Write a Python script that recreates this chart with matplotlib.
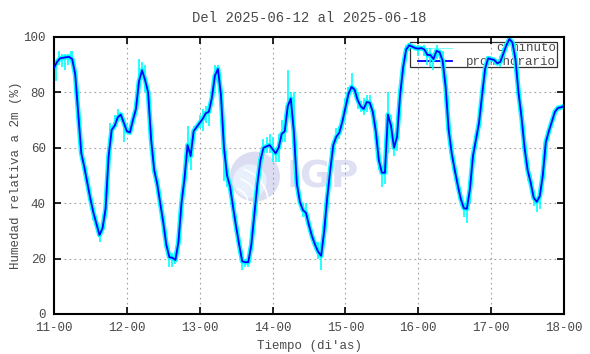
import numpy as np
import matplotlib.pyplot as plt
from matplotlib.patches import Ellipse, Rectangle, Arc

# promedio horario, horas desde 11-00 (0..168)
hum_horario = [
    88.8, 91.0, 92.3, 92.5, 92.7, 92.8, 92.0, 86.5, 72.0, 58.0, 53.0, 47.3,
    41.5, 36.5, 32.5, 28.5, 31.0, 38.0, 57.0, 66.5, 68.0, 71.0, 72.0, 69.0,
    66.0, 65.5, 70.0, 74.0, 84.0, 88.0, 84.5, 80.0, 63.0, 52.0, 47.0, 40.0,
    33.0, 25.0, 20.5, 20.3, 19.5, 26.0, 40.0, 49.0, 61.0, 57.0, 66.0, 67.5,
    69.0, 70.5, 72.5, 73.0, 78.0, 86.0, 88.5, 79.0, 60.0, 50.0, 46.0, 38.5,
    31.5, 25.0, 19.0, 18.7, 18.7, 25.0, 36.0, 47.0, 55.5, 60.0, 60.5, 61.0,
    59.5, 58.0, 60.0, 65.0, 66.0, 75.0, 77.8, 66.0, 47.0, 40.5, 37.5, 36.5,
    32.0, 28.0, 25.0, 22.5, 21.0, 30.0, 42.0, 52.0, 61.0, 64.0, 65.5, 69.5,
    74.5, 79.5, 82.0, 81.0, 77.3, 75.0, 74.0, 76.5, 76.3, 73.0, 66.0, 55.5,
    51.0, 51.0, 72.0, 68.0, 60.0, 64.0, 79.0, 89.0, 95.5, 97.0, 96.5, 96.0,
    95.8, 96.0, 95.5, 93.5, 93.5, 92.0, 95.0, 94.5, 91.5, 82.0, 66.5, 58.0,
    52.0, 46.5, 41.5, 38.2, 38.0, 45.0, 57.0, 63.0, 69.0, 79.0, 88.5, 92.3,
    92.0, 91.7, 90.5, 91.0, 94.0, 97.0, 99.3, 98.0, 92.0, 80.0, 71.0, 60.0,
    52.0, 47.5, 42.0, 40.5, 42.5, 50.0, 62.0, 66.0, 69.5, 73.0, 74.4, 74.6,
    75.1,
]
horas = np.arange(len(hum_horario))

# rango de la serie por minuto (hora, min, max)
picos_hora = [0.5, 1.5, 2.5, 3.5, 4.5, 5.5, 6, 10, 13, 15, 18.5, 20, 21, 23,
              27, 28, 29, 30, 31, 33, 35, 38, 39, 40, 44, 45, 46, 48, 49, 50,
              51, 53, 54, 56, 57, 62, 63, 64, 66, 68, 69, 70, 71,
              72, 73, 74, 75, 76, 77, 78, 79, 82, 83, 84, 87, 88, 93, 94, 96,
              97, 98, 100, 101, 102, 103, 104, 107, 108, 109, 110, 111, 112, 113, 116, 117,
              120, 122, 123, 124, 125, 126, 128, 131, 134, 135, 136, 137, 147, 148, 149,
              152, 153, 155, 156, 157, 158, 159, 160, 161]
picos_min = [84, 90, 89, 88, 90, 91, 91, 50, 34, 26, 60, 67, 70, 62,
             72, 80, 86, 80, 72, 50, 38, 17, 17, 18, 55, 52, 63, 67, 66, 69,
             68, 84, 86, 48, 46, 16, 17, 17, 34, 53, 56, 58, 58,
             55, 55, 55, 62, 62, 72, 74, 65, 35, 34, 30, 20, 16, 62, 63, 72,
             78, 80, 74, 73, 72, 73, 74, 52, 46, 47, 58, 64, 57, 59, 92, 95,
             93, 93, 90, 89, 88, 92, 89, 56, 39, 35, 33, 40, 89, 91, 95,
             88, 78, 55, 48, 44, 39, 37, 38, 47]
picos_max = [90, 95, 94, 94, 94, 95, 95, 56, 40, 30, 69, 72, 74, 70,
             78, 92, 91, 90, 82, 55, 42, 24, 22, 22, 68, 60, 68, 72, 74, 75,
             74, 90, 90, 62, 52, 21, 20, 21, 40, 58, 63, 64, 65,
             64, 60, 65, 70, 72, 88, 80, 80, 40, 40, 35, 26, 24, 67, 68, 78,
             82, 87, 80, 77, 78, 79, 79, 58, 52, 53, 80, 72, 63, 66, 97, 98,
             97, 97, 96, 96, 94, 97, 95, 60, 44, 40, 40, 46, 93, 96, 98,
             96, 85, 62, 55, 50, 44, 42, 46, 52]

dias = ['11-00', '12-00', '13-00', '14-00', '15-00', '16-00', '17-00', '18-00']

plt.rcParams['font.family'] = ['Liberation Mono', 'DejaVu Sans Mono']
gris = '#4a4a4a'

fig = plt.figure(figsize=(5.9, 3.54), dpi=100)
ax = fig.add_axes([0.0915, 0.113, 0.8645, 0.7825])

# marca de agua IGP (ejes 510x277 px -> corregir aspecto)
asp = 510 / 277
ax.add_patch(Ellipse((0.394, 0.496), 0.098, 0.098 * asp, transform=ax.transAxes,
                     color='#dcdcf2', lw=0, zorder=0))
ax.add_patch(Ellipse((0.384, 0.48), 0.066, 0.066 * asp, transform=ax.transAxes,
                     color='#e8f0fc', lw=0, zorder=0))
for r in [0.03, 0.05, 0.07]:
    ax.add_patch(Arc((0.35, 0.40), r * 2, r * 2 * asp, theta1=10, theta2=80,
                     transform=ax.transAxes, color='white', lw=1.2, zorder=0))
ax.text(0.527, 0.493, 'IGP', transform=ax.transAxes, fontsize=27, fontweight='bold',
        family='DejaVu Sans', color='#e0e0f4', ha='center', va='center', zorder=0)

ax.vlines(picos_hora, picos_min, picos_max, color='#00ffff', lw=1.2, zorder=2)
ax.plot(horas, hum_horario, color='#00ffff', lw=3.5, zorder=2)
ax.plot(horas, hum_horario, color='#0000ff', lw=1.3, zorder=3)

ax.set_xlim(0, 168)
ax.set_ylim(0, 100)
ax.set_xticks(np.arange(0, 169, 24))
ax.set_xticklabels(dias)
ax.set_yticks(np.arange(0, 101, 20))
ax.tick_params(direction='in', length=5, width=1.2, top=True, right=True,
               labelsize=9, labelcolor=gris, pad=6)
ax.grid(True, color='#a0a0a0', linestyle=(0, (1.5, 3)), lw=0.8)
for s in ax.spines.values():
    s.set_linewidth(1.5)
    s.set_color('black')

ax.set_title('Del 2025-06-12 al 2025-06-18', fontsize=10, color=gris, pad=11)
ax.set_xlabel("Tiempo (di'as)", fontsize=9, color=gris, labelpad=4)
ax.set_ylabel('Humedad relativa a 2m (%)', fontsize=9, color=gris, labelpad=1)

# leyenda
ax.add_patch(Rectangle((0.698, 0.893), 0.288, 0.09, transform=ax.transAxes,
                       fill=False, edgecolor='#303030', lw=0.9, zorder=1))
ax.plot([0.713, 0.78], [0.962, 0.962], transform=ax.transAxes, color='#80ffff', lw=0.8, zorder=1)
ax.plot([0.713, 0.78], [0.914, 0.914], transform=ax.transAxes, color='#0000ff', lw=1.3, zorder=1)
ax.text(0.984, 0.959, 'c/minuto', transform=ax.transAxes, fontsize=9, color=gris,
        ha='right', va='center', zorder=1)
ax.text(0.984, 0.911, 'prom/horario', transform=ax.transAxes, fontsize=9, color=gris,
        ha='right', va='center', zorder=1)

fig.savefig('out.png', dpi=100)
